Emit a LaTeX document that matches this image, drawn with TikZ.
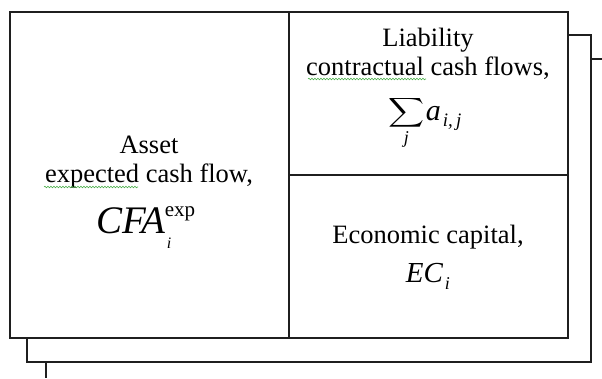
\documentclass[tikz,border=0pt]{standalone}
\usepackage{fontspec}
\setmainfont{Liberation Serif}
\usetikzlibrary{decorations.pathmorphing}
\begin{document}
\begin{tikzpicture}[x=1pt,y=-1pt,line width=1.8pt,line cap=butt,line join=miter,
  frame/.style={draw=black!88},
  txt/.style={anchor=base,inner sep=0pt,font=\fontsize{26.5}{30}\selectfont},
  mth/.style={anchor=base west,inner sep=0pt},
  spell/.style={draw=green!55!black!70,line width=0.6pt,decorate,decoration={snake,amplitude=0.8pt,segment length=3pt}}]
\useasboundingbox (0,0) rectangle (602,378);
% back layers
\draw[frame] (591,59) -- (602,59);
\draw[frame] (46,362) -- (46,378);
\draw[frame] (568,35) -- (591,35) -- (591,362) -- (27,362) -- (27,338);
% main table
\draw[frame] (10,12) rectangle (568,338);
\draw[frame] (289,12) -- (289,338);
\draw[frame] (289,175) -- (568,175);
% left cell
\node[txt] (asset) at (149,153) {Asset};
\node[txt] (expcf) at (149,182) {expected cash flow,};
\node[mth,font=\fontsize{39}{39}\selectfont\itshape] (cfa) at (96,233) {CFA};
\node[mth,font=\fontsize{21}{21}\selectfont] (cfaexp) at (164,216) {exp};
\node[mth,font=\fontsize{16}{16}\selectfont\itshape] (cfai) at (166,248) {i};
% top right cell
\node[txt] (liab) at (428,46) {Liability};
\node[txt] (ccf) at (428,75) {contractual cash flows,};
\node[anchor=center,inner sep=0pt,font=\fontsize{10}{10}\selectfont] (sum) at (407,113) {\scalebox{2.5}[2.05]{$\displaystyle\sum$}};
\node[mth,font=\fontsize{30}{30}\selectfont\itshape] (a) at (425,120) {a};
\node[mth,font=\fontsize{19}{19}\selectfont\itshape] (aij) at (442,126) {i,\,j};
\node[mth,font=\fontsize{18}{18}\selectfont\itshape] (sumj) at (403,143) {j};
% bottom right cell
\node[txt] (econ) at (428,243) {Economic capital,};
\node[mth,font=\fontsize{29}{29}\selectfont\itshape] (ec) at (405,282) {EC};
\node[mth,font=\fontsize{18}{18}\selectfont\itshape] (eci) at (444,289) {i};
% spell-check underlines
\coordinate (s1a) at (44,187); \coordinate (s1b) at (138,187);
\coordinate (s2a) at (308,79); \coordinate (s2b) at (426,79);
\draw[spell] (s1a) -- (s1b);
\draw[spell] (s2a) -- (s2b);
\end{tikzpicture}
\end{document}
